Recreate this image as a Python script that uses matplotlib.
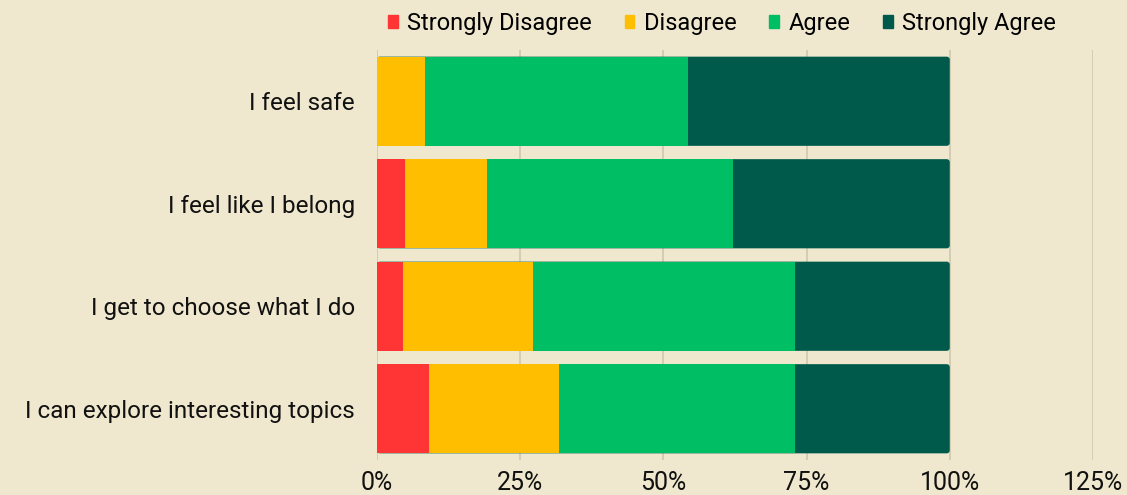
import numpy as np
import matplotlib.pyplot as plt
from matplotlib.patches import FancyBboxPatch, Patch
from matplotlib.ticker import PercentFormatter

plt.rcParams["font.family"] = ["Roboto", "DejaVu Sans"]

questions = [
    "I feel safe",
    "I feel like I belong",
    "I get to choose what I do",
    "I can explore interesting topics",
]
levels = ["Strongly Disagree", "Disagree", "Agree", "Strongly Agree"]
colors = ["#FF3535", "#FFBE00", "#00BE63", "#005A4B"]

strongly_disagree = [0.000, 0.049, 0.045, 0.091]
disagree = [0.084, 0.143, 0.227, 0.227]
agree = [0.459, 0.429, 0.457, 0.411]
strongly_agree = [0.457, 0.379, 0.271, 0.271]

bg = "#EFE8CE"
fig = plt.figure(figsize=(11.27, 4.95), dpi=100, facecolor=bg)
ax = fig.add_axes([0.3345, 0.0707, 0.6353, 0.8283], facecolor=bg)

y = np.arange(len(questions))
height = 0.87
series = [strongly_disagree, disagree, agree, strongly_agree]
left = np.zeros(len(questions))
totals = np.sum(series, axis=0)

# rounded bar in the last colour underneath, other segments drawn on top
rx, ry = 0.0052, 0.03
for yi, tot in zip(y, totals):
    ax.add_patch(FancyBboxPatch((0, yi - height / 2), tot, height,
                                boxstyle=f"round,pad=0,rounding_size={rx}",
                                mutation_aspect=ry / rx, fc=colors[3], ec="none",
                                zorder=2))
for vals, c in zip(series[:3], colors[:3]):
    ax.barh(y, vals, left=left, height=height, color=c, zorder=3)
    left += np.array(vals)

ax.set_xlim(0, 1.25)
ax.set_ylim(3.5, -0.5)
ax.set_xticks(np.arange(0, 1.26, 0.25))
ax.xaxis.set_major_formatter(PercentFormatter(1.0, decimals=0))
ax.set_yticks(y)
ax.set_yticklabels(questions)
ax.tick_params(length=0, colors="#111111")
ax.tick_params(axis="x", pad=8, labelsize=18)
ax.tick_params(axis="y", pad=16, labelsize=17.5)
ax.grid(axis="x", color="#D0C8AE", lw=1.2, zorder=0)
for s in ax.spines.values():
    s.set_visible(False)

handles = [Patch(color=c, label=l) for c, l in zip(colors, levels)]
ax.legend(handles=handles, loc="lower center", bbox_to_anchor=(0.482, 1.0), ncol=4,
          frameon=False, fontsize=17, handlelength=0.4, handleheight=0.5,
          handletextpad=0.4, columnspacing=1.4, borderaxespad=0.25)

fig.savefig("out.png", dpi=100, facecolor=bg)
